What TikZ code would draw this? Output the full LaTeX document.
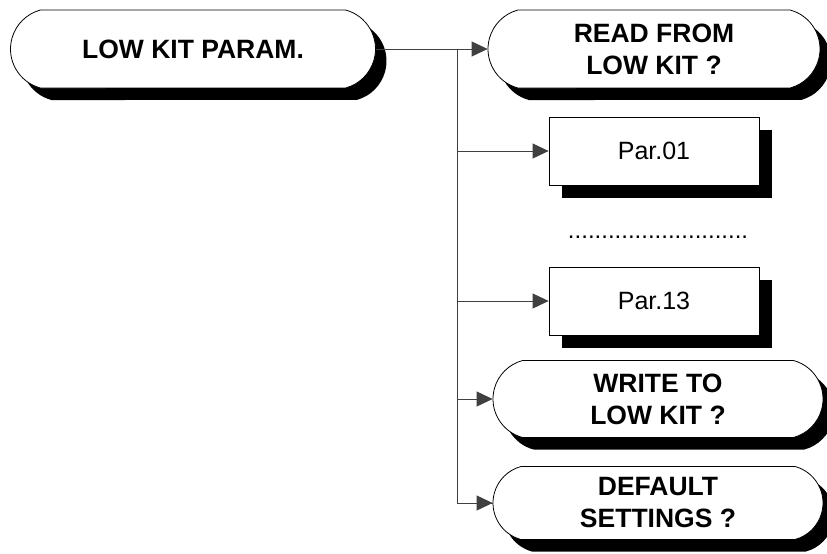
\documentclass[tikz,border=0pt]{standalone}
\usepackage{fontspec}
\setmainfont{Liberation Sans}
\usetikzlibrary{positioning,arrows.meta,shapes.misc,shadows}

\begin{document}
\begin{tikzpicture}[
  x = 1pt, y = -1pt,
  every node/.style = {align=center},
  >={Triangle[length=16pt,width=15pt]},
  term/.style = {rounded rectangle, rounded rectangle arc length=150, draw, line width=0.8pt,
    fill=white, inner sep=0pt, font=\bfseries\fontsize{26.5}{32}\selectfont,
    drop shadow={shadow xshift=11pt, shadow yshift=-12pt, fill=black, opacity=1}},
  parbox/.style = {rectangle, draw, line width=0.8pt, fill=white, inner sep=0pt,
    minimum width=210pt, minimum height=68pt, font=\fontsize{25}{30}\selectfont,
    drop shadow={shadow xshift=13pt, shadow yshift=-13pt, fill=black, opacity=1}},
  link/.style = {draw=black!75, line width=0.8pt}
]
  \useasboundingbox (0,0) rectangle (827,554);
  \node[term, minimum width=365pt, minimum height=78pt] (lkp) at (193,49) {LOW KIT PARAM.};
  \node[term, minimum width=332pt, minimum height=78pt] (read) at (654,49) {READ FROM\\LOW KIT ?};
  \node[parbox] (par01) at (654,151) {Par.01};
  \node[anchor=base, font=\fontsize{24}{29}\selectfont] (dots) at (658,238) {...........................};
  \node[parbox] (par13) at (654,301) {Par.13};
  \node[term, minimum width=330pt, minimum height=77pt] (write) at (658,399) {WRITE TO\\LOW KIT ?};
  \node[term, minimum width=330pt, minimum height=73pt] (deflt) at (658,503) {DEFAULT\\SETTINGS ?};
  % trunk
  \coordinate (split) at (457,49);
  \draw[link,->] (lkp.east) -- (read.west);
  \draw[link] (split) |- (deflt.west);
  \foreach \n in {par01,par13,write,deflt}
    \draw[link,->] (split) |- (\n.west);
\end{tikzpicture}
\end{document}
